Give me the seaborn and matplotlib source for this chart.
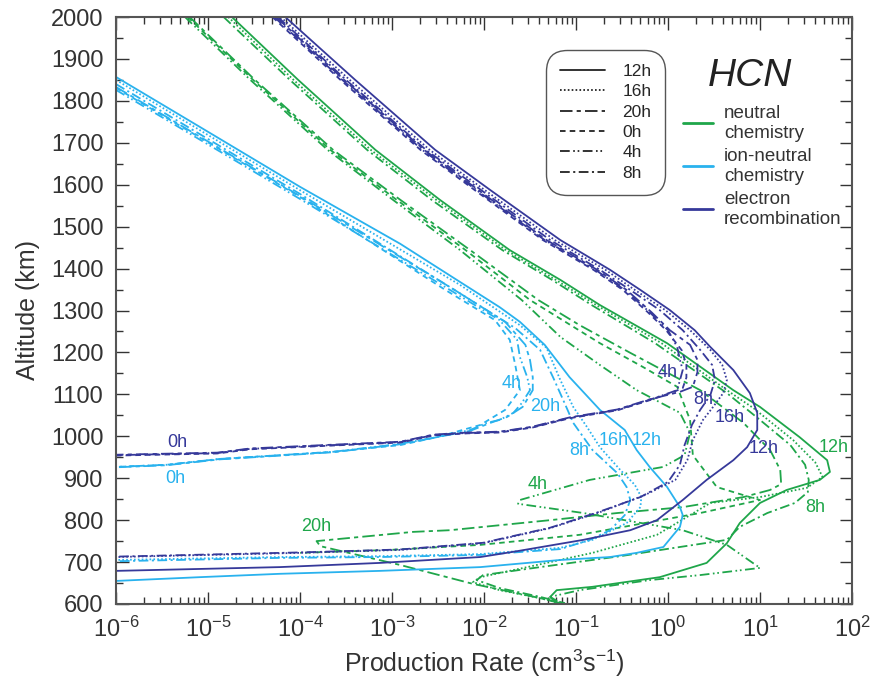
import numpy as np
import matplotlib
matplotlib.use("Agg")
import matplotlib.pyplot as plt
from matplotlib.lines import Line2D
from matplotlib.ticker import LogLocator, LogFormatterMathtext, MultipleLocator, NullFormatter
import seaborn as sns

sns.set_theme(style="ticks")
plt.rcParams["font.family"] = ["Liberation Sans", "DejaVu Sans"]
plt.rcParams["mathtext.default"] = "regular"
plt.rcParams["lines.scale_dashes"] = False

# colours of the three production channels
c_neu = "#1fa64a"
c_ion = "#29b2ee"
c_ele = "#36399a"

times = ["12h", "16h", "20h", "0h", "4h", "8h"]
styles = {"12h": "-", "16h": (0, (1.2, 1.6)), "20h": (0, (9, 3, 3, 3)),
          "0h": (0, (4, 3)), "4h": (0, (7, 2.5, 1.2, 2, 1.2, 2.5)),
          "8h": (0, (7, 2.5, 1.5, 2.5))}

# (log10 production rate, altitude km)
# --- ion-neutral chemistry
ion_12h = [(-6.0, 1857), (-5.09, 1738), (-4.0, 1595), (-2.91, 1459), (-2.26, 1368), (-1.83, 1308),
           (-1.61, 1273), (-1.34, 1218), (-1.07, 1141), (-0.74, 1063), (-0.47, 1015), (-0.34, 967),
           (-0.20, 927), (-0.01, 879), (0.13, 831), (0.16, 812), (0.13, 784), (-0.05, 736),
           (-0.34, 722), (-0.63, 712), (-1.17, 705), (-2.04, 688), (-3.13, 679), (-4.22, 672),
           (-5.09, 664), (-6.0, 655)]
ion_16h = [(-6.0, 1850), (-4.0, 1587), (-2.26, 1361), (-1.61, 1265), (-1.32, 1211), (-1.17, 1134),
           (-1.03, 1070), (-0.88, 1022), (-0.74, 974), (-0.52, 920), (-0.36, 884), (-0.29, 855),
           (-0.30, 831), (-0.45, 793), (-0.82, 753), (-1.17, 734), (-2.04, 719), (-3.13, 714),
           (-4.22, 712), (-6.0, 705)]
ion_8h = [(-6.0, 1840), (-4.0, 1578), (-2.32, 1349), (-1.66, 1258), (-1.39, 1206), (-1.25, 1141),
          (-1.14, 1087), (-1.03, 1032), (-0.82, 967), (-0.55, 912), (-0.45, 879), (-0.41, 848),
          (-0.47, 812), (-0.63, 776), (-0.85, 753), (-1.17, 731), (-2.04, 717), (-3.13, 712),
          (-4.22, 710), (-6.0, 702)]
ion_4h = [(-6.0, 1826), (-4.0, 1566), (-2.37, 1349), (-1.83, 1277), (-1.64, 1230), (-1.61, 1189),
          (-1.53, 1141), (-1.50, 1110), (-1.59, 1079), (-1.68, 1056), (-1.83, 1039), (-1.97, 1032),
          (-2.15, 1015), (-2.51, 998), (-2.91, 982), (-3.64, 963), (-4.36, 953), (-4.87, 946),
          (-5.45, 932), (-6.0, 927)]
ion_20h = [(-6.0, 1833), (-4.0, 1573), (-2.32, 1349), (-1.77, 1273), (-1.55, 1218), (-1.50, 1182),
           (-1.47, 1141), (-1.47, 1110), (-1.58, 1070), (-1.75, 1046), (-1.93, 1032), (-2.15, 1013),
           (-2.51, 998), (-2.91, 981), (-3.64, 962), (-4.36, 952), (-4.87, 945), (-5.45, 931),
           (-6.0, 926)]
ion_0h = [(-6.0, 1831), (-4.0, 1571), (-2.42, 1349), (-1.88, 1277), (-1.72, 1230), (-1.66, 1170),
          (-1.61, 1110), (-1.77, 1063), (-2.04, 1027), (-2.51, 998), (-2.91, 979), (-3.64, 963),
          (-4.36, 953), (-4.87, 946), (-5.45, 932), (-6.0, 927)]

# --- electron recombination
ele_12h = [(-4.16, 2000), (-3.40, 1850), (-2.53, 1683), (-1.93, 1587), (-1.17, 1468), (-0.63, 1397),
           (-0.30, 1349), (0.02, 1301), (0.29, 1253), (0.46, 1213), (0.71, 1158), (0.89, 1103),
           (0.97, 1056), (0.97, 1015), (0.86, 974), (0.71, 943), (0.42, 896), (0.16, 848),
           (-0.12, 800), (-0.41, 776), (-0.92, 753), (-1.64, 726), (-2.04, 712), (-3.13, 698),
           (-4.22, 688), (-6.0, 679)]
ele_16h = [(-4.21, 2000), (-3.46, 1850), (-2.59, 1683), (-1.99, 1587), (-1.23, 1468), (-0.68, 1397),
           (-0.36, 1349), (-0.03, 1301), (0.24, 1253), (0.46, 1206), (0.59, 1170), (0.64, 1134),
           (0.60, 1103), (0.49, 1070), (0.38, 1039), (0.27, 991), (0.21, 943), (0.08, 896),
           (-0.25, 860), (-0.74, 819), (-1.28, 781), (-2.01, 745), (-2.91, 729), (-4.0, 722),
           (-6.0, 712)]
ele_8h = [(-4.24, 2000), (-3.50, 1850), (-2.63, 1683), (-2.03, 1587), (-1.28, 1468), (-0.74, 1397),
          (-0.41, 1349), (-0.09, 1301), (0.16, 1253), (0.35, 1206), (0.48, 1170), (0.51, 1134),
          (0.46, 1098), (0.35, 1063), (0.26, 1027), (0.18, 979), (0.13, 932), (0.0, 891),
          (-0.30, 855), (-0.76, 819), (-1.28, 782), (-2.01, 746), (-2.91, 730), (-4.0, 723),
          (-6.0, 713)]
ele_4h = [(-4.28, 2000), (-3.54, 1850), (-2.67, 1683), (-2.08, 1587), (-1.34, 1468), (-0.79, 1397),
          (-0.47, 1349), (-0.20, 1296), (0.0, 1253), (0.10, 1213), (0.13, 1182), (0.16, 1158),
          (0.13, 1134), (0.10, 1110), (-0.20, 1087), (-0.55, 1063), (-1.07, 1044), (-1.47, 1022),
          (-1.83, 1010), (-2.18, 1008), (-2.55, 1003), (-2.91, 986), (-3.64, 979), (-4.54, 970),
          (-4.90, 960), (-6.0, 955)]
ele_20h = [(-4.26, 2000), (-3.52, 1850), (-2.65, 1683), (-2.06, 1587), (-1.32, 1468), (-0.77, 1397),
           (-0.45, 1349), (-0.18, 1296), (0.02, 1253), (0.24, 1218), (0.32, 1182), (0.32, 1153),
           (0.27, 1118), (0.13, 1106), (-0.20, 1088), (-0.55, 1064), (-1.07, 1045), (-1.47, 1023),
           (-1.83, 1011), (-2.18, 1009), (-2.55, 1004), (-2.91, 987), (-3.64, 980), (-4.54, 971),
           (-4.90, 961), (-6.0, 956)]
ele_0h = [(-4.30, 2000), (-3.56, 1850), (-2.69, 1683), (-2.10, 1587), (-1.36, 1468), (-0.81, 1397),
          (-0.49, 1349), (-0.22, 1296), (-0.02, 1253), (0.15, 1205), (0.20, 1170), (0.20, 1140),
          (0.16, 1115), (0.05, 1105), (-0.20, 1086), (-0.55, 1062), (-1.07, 1043), (-1.47, 1021),
          (-1.83, 1009), (-2.18, 1007), (-2.55, 1002), (-2.91, 985), (-3.64, 978), (-4.54, 969),
          (-4.90, 959), (-6.0, 954)]

# --- neutral chemistry
neu_12h = [(-4.74, 2000), (-4.02, 1850), (-3.18, 1683), (-2.48, 1564), (-1.72, 1444), (-1.17, 1373),
           (-0.74, 1313), (-0.01, 1222), (0.71, 1110), (1.0, 1070), (1.43, 998), (1.73, 943),
           (1.76, 915), (1.65, 896), (1.29, 872), (1.0, 841), (0.78, 793), (0.64, 745),
           (0.42, 698), (-0.09, 664), (-0.82, 641), (-1.21, 633), (-1.28, 617), (-1.22, 602)]
neu_16h = [(-4.78, 2000), (-4.07, 1850), (-3.23, 1683), (-2.52, 1564), (-1.76, 1444), (-1.22, 1373),
           (-0.78, 1313), (-0.07, 1222), (0.64, 1110), (0.93, 1067), (1.36, 991), (1.60, 938),
           (1.68, 903), (1.51, 877), (1.0, 855), (0.46, 841), (0.24, 812), (-0.12, 765),
           (-0.82, 722), (-1.53, 688), (-2.04, 664), (-2.12, 652), (-1.83, 633), (-1.39, 614),
           (-1.17, 602)]
neu_8h = [(-4.83, 2000), (-4.11, 1850), (-3.27, 1683), (-2.57, 1564), (-1.80, 1444), (-1.26, 1373),
          (-0.83, 1313), (-0.14, 1222), (0.64, 1103), (1.0, 1039), (1.33, 979), (1.49, 932),
          (1.53, 896), (1.52, 867), (1.38, 841), (1.08, 817), (0.78, 784), (0.64, 753),
          (0.13, 736), (-0.52, 714), (-1.39, 688), (-2.01, 669), (-2.08, 657), (-1.83, 638),
          (-1.39, 617), (-1.12, 602)]
neu_20h = [(-5.20, 2000), (-4.49, 1850), (-3.64, 1683), (-2.91, 1564), (-2.15, 1444), (-1.41, 1325),
           (-0.96, 1265), (-0.41, 1199), (0.35, 1110), (0.82, 1032), (1.11, 967), (1.22, 920),
           (1.23, 886), (1.11, 872), (0.82, 855), (0.16, 831), (-0.55, 817), (-1.28, 800),
           (-2.37, 776), (-2.77, 772), (-3.82, 750), (-3.78, 738), (-2.91, 693), (-2.12, 648),
           (-1.39, 614), (-1.17, 602)]
neu_4h = [(-5.25, 2000), (-4.54, 1850), (-3.70, 1683), (-2.99, 1564), (-2.26, 1444), (-1.59, 1325),
          (-1.17, 1237), (-0.74, 1170), (-0.34, 1110), (0.13, 1056), (0.24, 1008), (0.18, 955),
          (-0.05, 927), (-0.85, 896), (-1.61, 848), (-1.63, 839), (-0.92, 817), (0.16, 776),
          (0.64, 741), (1.0, 686), (0.35, 669), (-0.20, 657), (-0.96, 633), (-1.28, 617),
          (-1.17, 602)]
neu_0h = [(-5.22, 2000), (-4.51, 1850), (-3.67, 1683), (-2.95, 1564), (-2.20, 1444), (-1.50, 1325),
          (-0.74, 1222), (-0.27, 1165), (0.10, 1118), (0.24, 1039), (0.27, 955), (0.53, 879),
          (0.89, 855), (1.0, 848), (0.35, 817), (-0.96, 765), (-2.04, 741), (-3.02, 729),
          (-4.0, 722)]

# curve labels: (text, log10 rate, altitude)
ion_labels = [("4h", -1.70, 1127), ("20h", -1.33, 1070), ("0h", -5.36, 900),
              ("8h", -0.96, 967), ("16h", -0.59, 989), ("12h", -0.23, 989)]
ele_labels = [("0h", -5.33, 986), ("4h", 0.0, 1153), ("8h", 0.38, 1087),
              ("16h", 0.67, 1044), ("12h", 1.04, 972)]
neu_labels = [("12h", 1.80, 974), ("8h", 1.60, 829), ("4h", -1.42, 884), ("20h", -3.82, 784)]

curves = [
    (c_neu, {"12h": neu_12h, "16h": neu_16h, "20h": neu_20h, "0h": neu_0h, "4h": neu_4h, "8h": neu_8h}),
    (c_ion, {"12h": ion_12h, "16h": ion_16h, "20h": ion_20h, "0h": ion_0h, "4h": ion_4h, "8h": ion_8h}),
    (c_ele, {"12h": ele_12h, "16h": ele_16h, "20h": ele_20h, "0h": ele_0h, "4h": ele_4h, "8h": ele_8h}),
]

fig = plt.figure(figsize=(8.76, 6.84), dpi=100)
ax = fig.add_axes([116 / 876, 80 / 684, 736 / 876, 587 / 684])
ax.set_xscale("log")

for color, group in curves:
    for t in times:
        pts = np.array(group[t])
        sns.lineplot(x=10 ** pts[:, 0], y=pts[:, 1], ax=ax, sort=False, estimator=None,
                     color=color, lw=1.3, linestyle=styles[t])

for color, labs in [(c_ion, ion_labels), (c_ele, ele_labels), (c_neu, neu_labels)]:
    for txt, lx, alt in labs:
        ax.text(10 ** lx, alt, txt, color=color, fontsize=13, ha="center", va="center")

ax.set_xlim(1e-6, 1e2)
ax.set_ylim(600, 2000)
ax.xaxis.set_major_locator(LogLocator(base=10, numticks=20))
ax.xaxis.set_minor_locator(LogLocator(base=10, subs=np.arange(2, 10), numticks=100))
ax.xaxis.set_major_formatter(LogFormatterMathtext())
ax.xaxis.set_minor_formatter(NullFormatter())
ax.yaxis.set_major_locator(MultipleLocator(100))
ax.yaxis.set_minor_locator(MultipleLocator(50))
ax.tick_params(which="both", direction="in", top=True, right=True, colors="#333333",
               labelsize=17, width=1)
ax.tick_params(which="major", length=9, pad=9)
ax.tick_params(which="minor", length=5)
for s in ax.spines.values():
    s.set_color("#555555")
    s.set_linewidth(1.5)

ax.set_xlabel("Production Rate (cm$^3$s$^{-1}$)", fontsize=18, color="#333333", labelpad=4)
ax.set_ylabel("Altitude (km)", fontsize=18, color="#333333", labelpad=8)

# line-style legend (time of day)
h_time = [Line2D([], [], color="#222222", lw=1.3, linestyle=styles[t]) for t in times]
leg1 = ax.legend(h_time, times, loc="upper left", bbox_to_anchor=(0.584, 0.944),
                 borderaxespad=0, fancybox=True, framealpha=1, edgecolor="#555555",
                 fontsize=12.5, handlelength=2.6, handletextpad=1.0, labelspacing=0.3,
                 borderpad=0.8)
leg1.get_frame().set_linewidth(1.0)
leg1.get_frame().set_boxstyle("round", pad=0, rounding_size=1.2)
ax.add_artist(leg1)

# colour legend (process)
h_proc = [Line2D([], [], color=c, lw=2) for c in (c_neu, c_ion, c_ele)]
ax.legend(h_proc, ["neutral\nchemistry", "ion-neutral\nchemistry", "electron\nrecombination"],
          loc="upper left", bbox_to_anchor=(0.76, 0.863), borderaxespad=0, frameon=False,
          fontsize=13.5, handlelength=1.6, handletextpad=0.6, labelspacing=0.35,
          labelcolor="#333333")

ax.text(0.862, 0.90, "HCN", transform=ax.transAxes, fontsize=28, style="italic",
        ha="center", va="center", color="#222222")

fig.savefig("out.png", dpi=100)
